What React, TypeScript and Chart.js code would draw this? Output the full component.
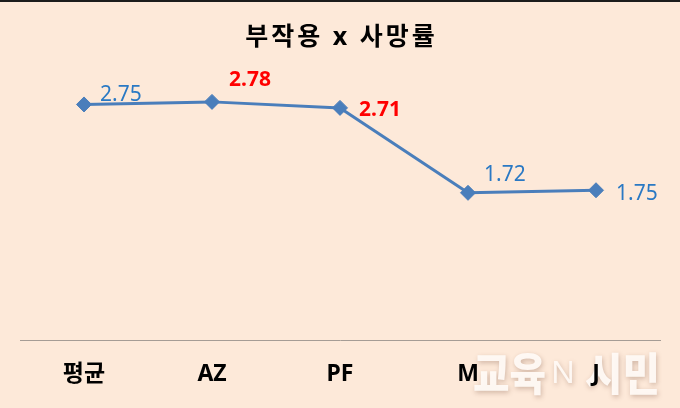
import { useEffect, useRef } from 'react';
import { Chart, registerables } from 'chart.js';

Chart.register(...registerables);

const categories = ['평균', 'AZ', 'PF', 'M', 'J'];
const values = [2.75, 2.78, 2.71, 1.72, 1.75];
const highlight = [false, true, true, false, false];
const titleText = '부작용 x 사망률';
const watermarkParts = ['교육', 'N', '시민'];

// label placement relative to each point: [dx to left edge, dy to baseline]
const labelOffsets = [
  [16, -3],
  [17, -16],
  [19, 8],
  [16, -12],
  [20, 10],
];

const FONT = '"Noto Sans", "Noto Sans CJK KR", sans-serif';
const BG = '#FDE9D9';
const LINE = '#4A7EBB';

function drawScaledText(ctx: any, text: string, x: number, y: number, targetWidth: number) {
  const w = ctx.measureText(text).width;
  const sx = targetWidth / w;
  ctx.save();
  ctx.translate(x, y);
  ctx.scale(sx, 1);
  ctx.fillText(text, 0, 0);
  ctx.restore();
}

const backgroundPlugin = {
  id: 'bgAndWatermark',
  beforeDraw(chart: any) {
    const { ctx, width, height } = chart;
    ctx.save();
    ctx.fillStyle = BG;
    ctx.fillRect(0, 0, width, height);
    ctx.fillStyle = '#1c1c1c';
    ctx.fillRect(0, 0, width, 2);

    // title
    ctx.fillStyle = '#000000';
    ctx.font = `bold 25px ${FONT}`;
    ctx.textAlign = 'center';
    ctx.textBaseline = 'middle';
    try {
      (ctx as any).letterSpacing = '3px';
    } catch (e) {}
    ctx.fillText(titleText, chart.width / 2 + 1.5, 38);
    try {
      (ctx as any).letterSpacing = '0px';
    } catch (e) {}

    // watermark
    ctx.shadowColor = 'rgba(120,80,60,0.35)';
    ctx.shadowBlur = 5;
    ctx.shadowOffsetX = 1;
    ctx.shadowOffsetY = 2;
    ctx.fillStyle = 'rgba(255,250,246,0.95)';
    ctx.textBaseline = 'middle';
    ctx.textAlign = 'left';
    const y = 374;
    ctx.font = `900 45px "Noto Sans CJK KR", sans-serif`;
    drawScaledText(ctx, watermarkParts[0], 473, y, 73);
    ctx.font = `400 30px "Noto Sans", sans-serif`;
    drawScaledText(ctx, watermarkParts[1], 551, y, 24);
    ctx.font = `900 45px "Noto Sans CJK KR", sans-serif`;
    drawScaledText(ctx, watermarkParts[2], 585, y, 75);
    ctx.restore();
  },
};

const labelPlugin = {
  id: 'valueLabels',
  afterDatasetsDraw(chart: any) {
    const { ctx } = chart;
    const meta = chart.getDatasetMeta(0);
    ctx.save();
    ctx.textAlign = 'left';
    ctx.textBaseline = 'alphabetic';
    meta.data.forEach((pt: any, i: number) => {
      const v = values[i];
      const [dx, dy] = labelOffsets[i];
      if (highlight[i]) {
        ctx.font = `bold 21px ${FONT}`;
        ctx.fillStyle = '#FF0000';
      } else {
        ctx.font = `21px ${FONT}`;
        ctx.fillStyle = '#2A79C4';
      }
      ctx.fillText(v.toFixed(2), pt.x + dx, pt.y + dy);
    });
    ctx.restore();
  },
};

export default function App() {
  const ref = useRef<HTMLCanvasElement | null>(null);

  useEffect(() => {
    if (!ref.current) return;
    const chart = new Chart(ref.current, {
      type: 'line',
      data: {
        labels: categories,
        datasets: [
          {
            data: values,
            borderColor: LINE,
            borderWidth: 3,
            backgroundColor: LINE,
            pointStyle: 'rectRot',
            pointRadius: 7.5,
            pointBackgroundColor: LINE,
            pointBorderColor: LINE,
            pointBorderWidth: 1,
            tension: 0,
            clip: false as any,
          },
        ],
      },
      options: {
        responsive: false,
        animation: false,
        events: [],
        layout: { padding: { left: 20, right: 20, top: 83, bottom: 0 } },
        plugins: {
          legend: { display: false },
          tooltip: { enabled: false },
          title: { display: false },
        },
        scales: {
          x: {
            offset: true,
            grid: { display: false, drawTicks: false },
            border: { display: true, color: '#A59C95', width: 1 },
            ticks: {
              color: '#000000',
              font: { size: 23, weight: 'bold', family: FONT },
              padding: 20,
              maxRotation: 0,
            },
          },
          y: {
            display: false,
            min: 0,
            max: 3,
          },
        },
      },
      plugins: [backgroundPlugin, labelPlugin],
    });
    return () => chart.destroy();
  }, []);

  return (
    <div style={{ position: 'fixed', left: 0, top: 0, width: 680, height: 408, background: BG }}>
      <canvas ref={ref} width={680} height={408} style={{ display: 'block' }} />
    </div>
  );
}
